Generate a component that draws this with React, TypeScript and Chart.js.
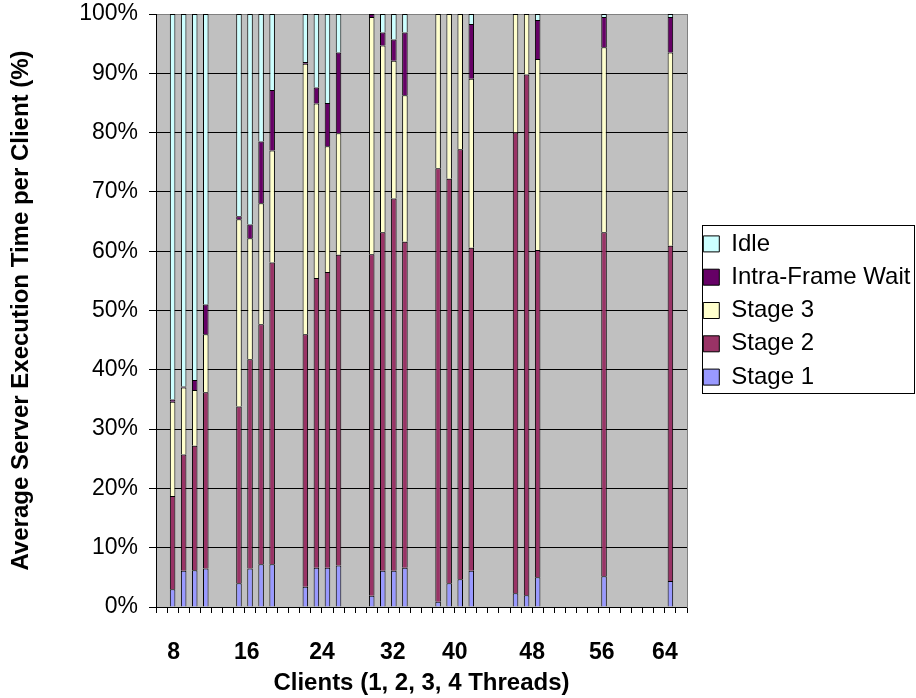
import React, { useEffect, useRef } from 'react';
import { Chart, registerables } from 'chart.js';

Chart.register(...registerables);

const FONT = "'Liberation Sans', Arial, Helvetica, sans-serif";

// 48 category slots: each client group = [spacer, 1 thread, 2 threads, 3 threads, 4 threads, spacer]
const categories = [
  '', '8 / 1T', '8 / 2T', '8 / 3T', '8 / 4T', '',
  '', '16 / 1T', '16 / 2T', '16 / 3T', '16 / 4T', '',
  '', '24 / 1T', '24 / 2T', '24 / 3T', '24 / 4T', '',
  '', '32 / 1T', '32 / 2T', '32 / 3T', '32 / 4T', '',
  '', '40 / 1T', '40 / 2T', '40 / 3T', '40 / 4T', '',
  '', '48 / 1T', '48 / 2T', '48 / 3T', '48 / 4T', '',
  '', '56 / 1T', '56 / 2T', '56 / 3T', '56 / 4T', '',
  '', '64 / 1T', '64 / 2T', '64 / 3T', '64 / 4T', '',
];

const stage1 = [
  null, 3.0, 6.1, 6.2, 6.5, null,
  null, 4.0, 6.5, 7.2, 7.2, null,
  null, 3.4, 6.6, 6.6, 7.0, null,
  null, 1.9, 6.1, 6.1, 6.6, null,
  null, 0.9, 4.0, 4.7, 6.1, null,
  null, null, 2.3, 2.0, 5.0, null,
  null, null, null, null, 5.2, null,
  null, null, null, null, 4.4, null,
];

const stage2 = [
  null, 15.7, 19.6, 21.0, 29.7, null,
  null, 29.8, 35.3, 40.5, 50.9, null,
  null, 42.6, 48.9, 49.9, 52.4, null,
  null, 57.6, 57.1, 62.8, 55.0, null,
  null, 73.1, 68.2, 72.5, 54.5, null,
  null, null, 77.7, 87.8, 55.2, null,
  null, null, null, null, 58.0, null,
  null, null, null, null, 56.5, null,
];

const stage3 = [
  null, 15.9, 11.3, 9.4, 9.8, null,
  null, 31.6, 20.4, 20.4, 18.9, null,
  null, 45.6, 29.4, 21.2, 20.5, null,
  null, 40.0, 31.5, 23.2, 24.7, null,
  null, 26.0, 27.8, 22.8, 28.5, null,
  null, null, 20.0, 10.2, 32.2, null,
  null, null, null, null, 31.2, null,
  null, null, null, null, 32.6, null,
];

const intraFrameWait = [
  null, 0.4, 0.2, 1.7, 5.0, null,
  null, 0.5, 2.3, 10.4, 10.2, null,
  null, 0.3, 2.7, 7.3, 13.6, null,
  null, 0.5, 2.2, 3.6, 10.6, null,
  null, 0, 0, 0, 9.2, null,
  null, null, 0, 0, 6.6, null,
  null, null, null, null, 5.1, null,
  null, null, null, null, 6.0, null,
];

const idle = [
  null, 65.0, 62.8, 61.7, 49.0, null,
  null, 34.1, 35.5, 21.5, 12.8, null,
  null, 8.1, 12.4, 15.0, 6.5, null,
  null, 0, 3.1, 4.3, 3.1, null,
  null, 0, 0, 0, 1.7, null,
  null, null, 0, 0, 1.0, null,
  null, null, null, null, 0.5, null,
  null, null, null, null, 0.5, null,
];

// client-count axis labels and where they sit along the 48 category slots
const clientLabels = ['8', '16', '24', '32', '40', '48', '56', '64'];
const clientLabelSlots = [1.6, 8.2, 15.0, 21.4, 27.0, 34.0, 40.3, 46.0];

const seriesNames = ['Stage 1', 'Stage 2', 'Stage 3', 'Intra-Frame Wait', 'Idle'];
const seriesData = [stage1, stage2, stage3, intraFrameWait, idle];
const seriesColors = ['#9999FF', '#993366', '#FFFFCC', '#660066', '#CCFFFF'];

const plotBackground = {
  id: 'plotBackground',
  beforeDraw(chart: any) {
    const { ctx, chartArea: a } = chart;
    ctx.save();
    ctx.fillStyle = '#C0C0C0';
    ctx.fillRect(a.left, a.top, a.right - a.left, a.bottom - a.top);
    ctx.restore();
  },
};

const legendFrame = {
  id: 'legendFrame',
  afterDraw(chart: any) {
    const lg = chart.legend;
    if (!lg || !lg.legendHitBoxes || !lg.legendHitBoxes.length) return;
    const hb = lg.legendHitBoxes;
    const first = hb[0];
    const last = hb[hb.length - 1];
    const ctx = chart.ctx;
    const x1 = Math.round(first.left - 1) + 0.5;
    const y1 = Math.round(first.top - 7) + 0.5;
    const x2 = chart.width - 1.5;
    const y2 = Math.round(last.top + last.height + 4) + 0.5;
    ctx.save();
    ctx.strokeStyle = '#000000';
    ctx.lineWidth = 1;
    ctx.strokeRect(x1, y1, x2 - x1, y2 - y1);
    ctx.restore();
  },
};

export default function App() {
  const canvasRef = useRef<HTMLCanvasElement | null>(null);

  useEffect(() => {
    if (!canvasRef.current) return;
    Chart.defaults.font.family = FONT;
    const chart = new Chart(canvasRef.current, {
      type: 'bar',
      data: {
        labels: categories,
        datasets: seriesNames.map((name, i) => ({
          label: name,
          data: seriesData[i],
          backgroundColor: seriesColors[i],
          borderColor: '#000000',
          borderWidth: 1,
          barPercentage: 0.5,
          categoryPercentage: 1.0,
          xAxisID: 'x',
          yAxisID: 'y',
          stack: 'all',
        })),
      },
      options: {
        responsive: false,
        devicePixelRatio: 1,
        animation: false,
        events: [],
        layout: { padding: { top: 14, left: 0, right: 0, bottom: 0 } },
        plugins: {
          tooltip: { enabled: false },
          legend: {
            display: true,
            position: 'right',
            align: 'center',
            fullSize: false,
            reverse: true,
            maxWidth: 222,
            labels: {
              boxWidth: 16,
              boxHeight: 16,
              padding: 9.3,
              color: '#000000',
              font: { family: FONT, size: 24 },
            },
          },
        },
        scales: {
          x: {
            type: 'category',
            position: 'bottom',
            weight: 0,
            stacked: true,
            offset: true,
            grid: {
              display: true,
              drawOnChartArea: false,
              drawTicks: true,
              tickLength: 6,
              color: '#000000',
              offset: true,
            },
            border: { display: true, color: '#000000', width: 1 },
            ticks: { display: false, autoSkip: false },
            afterFit: (s: any) => {
              s.height = 6;
              s.paddingLeft = 0;
              s.paddingRight = 0;
            },
          },
          xl: {
            type: 'linear',
            position: 'bottom',
            weight: 1,
            display: true,
            offset: false,
            min: 0,
            max: 48,
            grid: { display: false, drawTicks: false },
            border: { display: false },
            afterBuildTicks: (axis: any) => {
              axis.ticks = clientLabelSlots.map((v) => ({ value: v }));
            },
            ticks: {
              autoSkip: false,
              maxRotation: 0,
              padding: 26,
              color: '#000000',
              font: { family: FONT, size: 23, weight: 'bold' },
              callback: (_v: any, i: number) => clientLabels[i],
            },
            title: {
              display: true,
              text: 'Clients (1, 2, 3, 4 Threads)',
              color: '#000000',
              font: { family: FONT, size: 24, weight: 'bold' },
              padding: { top: 2.7, bottom: 0 },
            },
            afterFit: (s: any) => {
              s.height = 85;
              s.paddingLeft = 0;
              s.paddingRight = 0;
            },
          },
          y: {
            type: 'linear',
            position: 'left',
            stacked: true,
            min: 0,
            max: 100,
            grid: {
              color: (c: any) => (c.tick && c.tick.value === 100 ? '#808080' : '#000000'),
              tickColor: '#000000',
              lineWidth: 1,
              drawTicks: true,
              tickLength: 7,
            },
            border: { display: true, color: '#000000', width: 1 },
            ticks: {
              stepSize: 10,
              padding: 11,
              color: '#000000',
              font: { family: FONT, size: 23 },
              callback: (v: any) => v + '%',
            },
            title: {
              display: true,
              text: 'Average Server Execution Time per Client (%)',
              color: '#000000',
              font: { family: FONT, size: 24, weight: 'bold' },
              padding: { top: 7.3, bottom: 43.1 },
            },
            afterFit: (s: any) => {
              s.width = 156;
              s.paddingTop = 0;
              s.paddingBottom = 0;
            },
          },
          yr: {
            type: 'linear',
            position: 'right',
            display: true,
            grid: { display: false, drawTicks: false },
            ticks: { display: false },
            border: { display: true, color: '#808080', width: 1 },
            afterFit: (s: any) => {
              s.width = 7;
              s.paddingTop = 0;
              s.paddingBottom = 0;
            },
          },
        },
      } as any,
      plugins: [plotBackground, legendFrame],
    });
    return () => chart.destroy();
  }, []);

  return (
    <div style={{ position: 'fixed', left: 0, top: 0, width: 916, height: 698, background: '#ffffff' }}>
      <canvas ref={canvasRef} width={916} height={698} style={{ display: 'block' }} />
    </div>
  );
}
